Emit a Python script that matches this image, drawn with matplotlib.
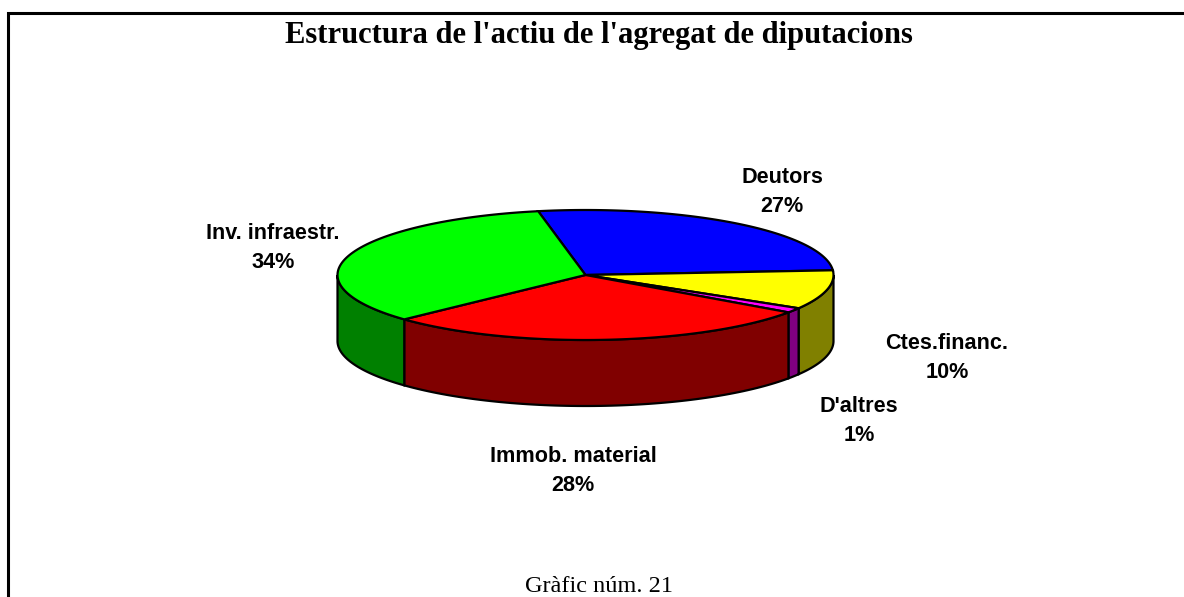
import numpy as np
import matplotlib
matplotlib.use("Agg")
import matplotlib.pyplot as plt
from matplotlib.patches import Polygon

labels = ["Deutors", "Ctes.financ.", "D'altres", "Immob. material", "Inv. infraestr."]
values = [26.9, 9.7, 1.2, 28.3, 33.9]
top_colors = ["#0000ff", "#ffff00", "#ff00ff", "#ff0000", "#00ff00"]
side_colors = ["#000080", "#808000", "#800080", "#800000", "#008000"]
label_pos = [(782, 192), (947, 358), (859, 421), (573, 471), (273, 248)]

title = "Estructura de l'actiu de l'agregat de diputacions"
caption = "Gràfic núm. 21"

cx, cy = 585.5, 275
rx, ry = 248, 65
depth = 66
start = 101

fig = plt.figure(figsize=(11.84, 5.97), dpi=100)
ax = fig.add_axes([0, 0, 1, 1])
ax.set_xlim(0, 1184)
ax.set_ylim(597, 0)
ax.axis("off")


def rim(a0, a1, dy=0):
    t = np.radians(np.linspace(a0, a1, 80))
    return np.column_stack((cx + rx * np.cos(t), cy - ry * np.sin(t) + dy))


# slices run clockwise from the back of the pie
angle = start
for v, top, side in zip(values, top_colors, side_colors):
    end = angle - v * 3.6
    # side wall only for the front half of the ellipse
    if end < 0:
        a0 = min(angle, 0)
        a1 = max(end, -180)
        wall = np.vstack((rim(a0, a1), rim(a1, a0, depth)))
        ax.add_patch(Polygon(wall, closed=True, fc=side, ec="black", lw=1.6, zorder=2))
    pts = np.vstack(([[cx, cy]], rim(angle, end)))
    ax.add_patch(Polygon(pts, closed=True, fc=top, ec="black", lw=1.6, zorder=3))
    angle = end

for name, v, (x, y) in zip(labels, values, label_pos):
    ax.text(x, y, f"{name}\n{round(v)}%", ha="center", va="center", fontsize=15.6, fontweight="bold",
            family="Liberation Sans", linespacing=1.45, color="black")

ax.text(598.5, 35.5, title, ha="center", va="center", fontsize=22, fontweight="bold",
        family="Liberation Serif", color="black")
ax.text(599, 586, caption, ha="center", va="center", fontsize=17.5,
        family="Liberation Serif", color="black")

# frame: only left and top lines show in the crop
ax.plot([7.5, 7.5, 1184], [597, 12.5, 12.5], color="black", lw=2.2,
        solid_joinstyle="miter", clip_on=False)

fig.savefig("out.png", dpi=100)
